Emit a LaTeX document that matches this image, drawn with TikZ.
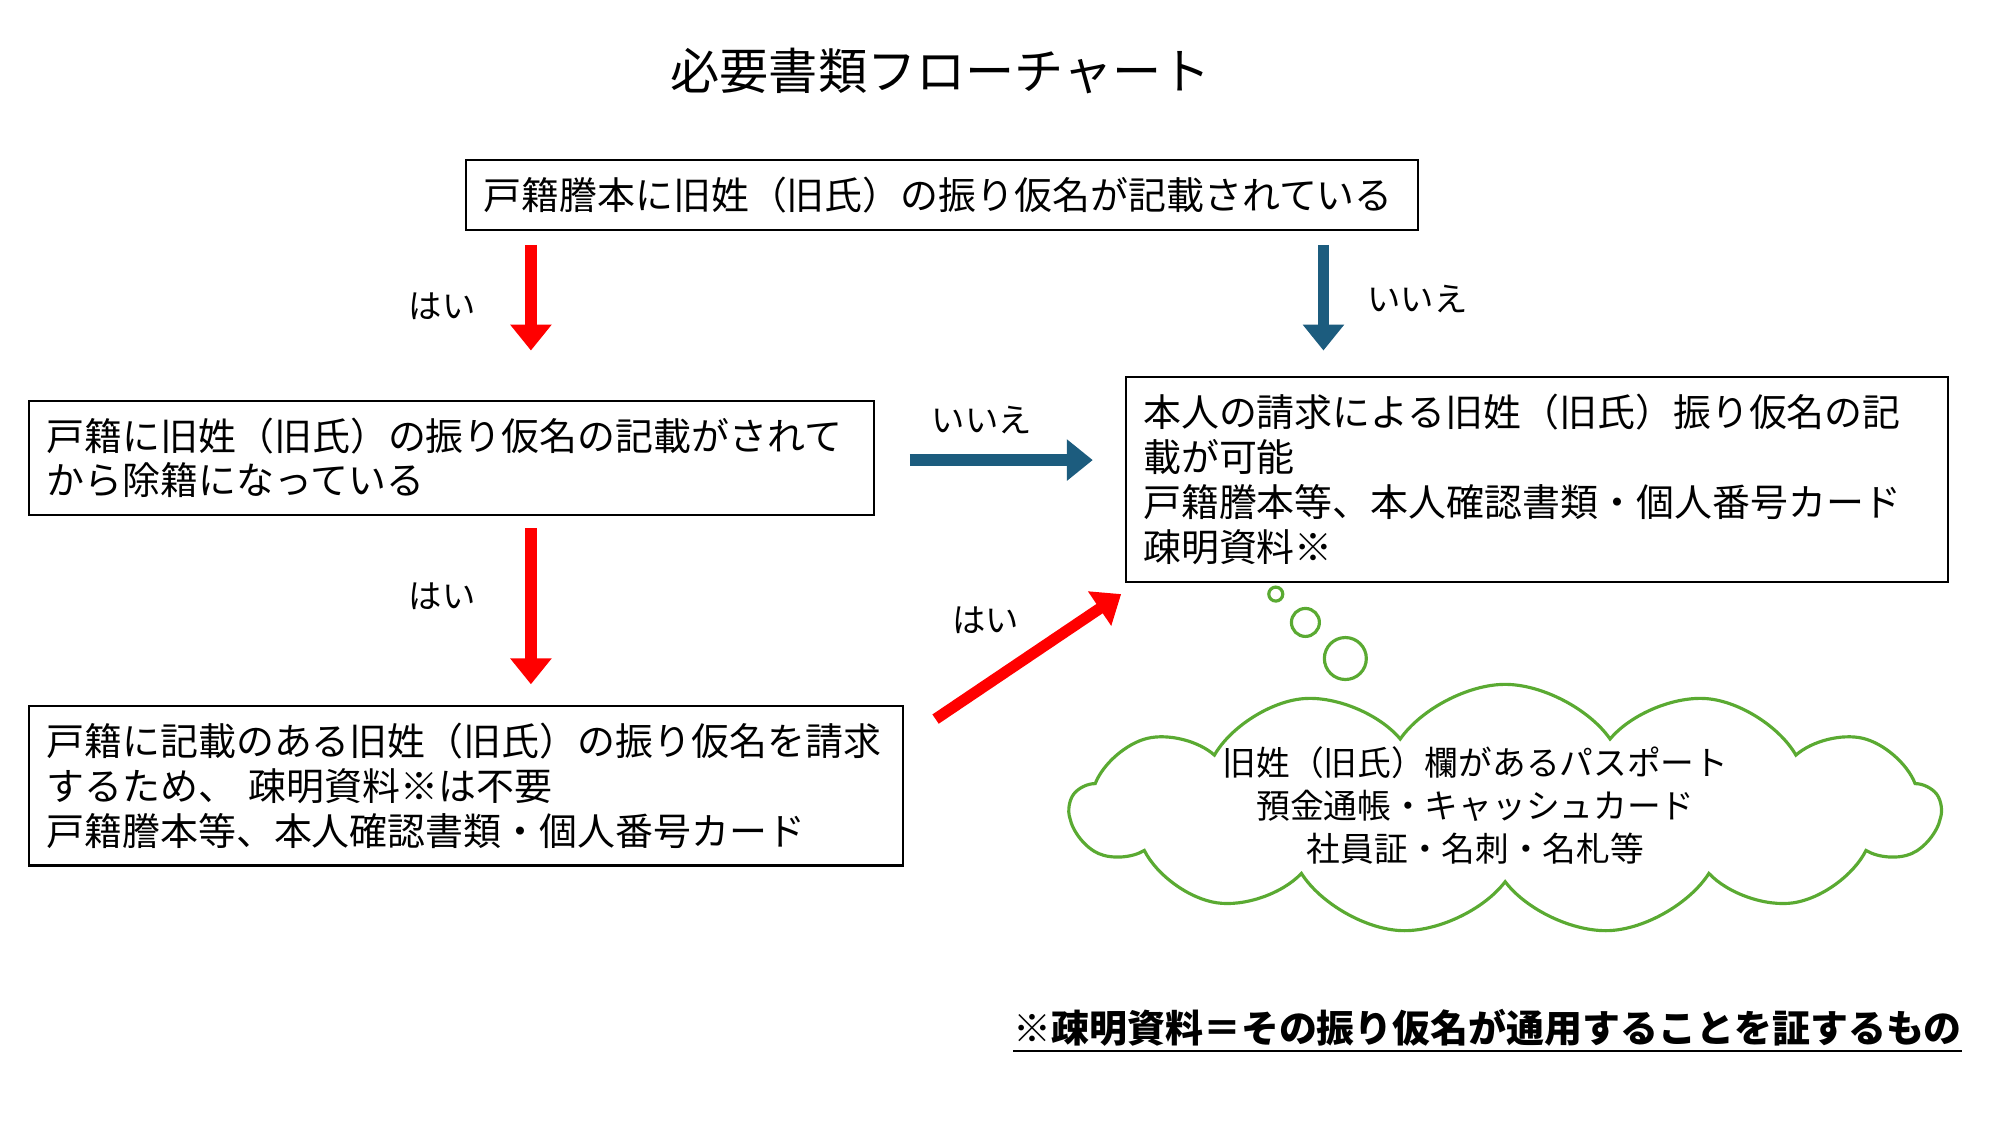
\documentclass[tikz,border=0pt]{standalone}
\usepackage{fontspec}
\setmainfont{Noto Sans CJK JP}
\usetikzlibrary{arrows.meta,shapes.symbols}
\definecolor{ared}{HTML}{FF0000}
\definecolor{ablue}{HTML}{1C5C7E}
\definecolor{cgreen}{HTML}{5AAA32}
\tikzset{
  box/.style={draw=black,line width=0.6pt,anchor=north west,align=left,inner sep=0.17cm,font=\fontsize{10.8}{12.8}\selectfont},
  redarr/.style={draw=ared,line width=3.2pt,-{Triangle[length=0.26cm,width=0.4cm]}},
  bluearr/.style={draw=ablue,line width=3.2pt,-{Triangle[length=0.26cm,width=0.4cm]}},
  lbl/.style={font=\fontsize{9.5}{11}\selectfont},
  puff/.style={draw=cgreen,line width=0.9pt,circle,inner sep=0pt}
}
\begin{document}
\begin{tikzpicture}[x=0.012887cm,y=-0.012887cm]
\useasboundingbox (0,0) rectangle (1552,873);
\node[font=\fontsize{14}{16}\selectfont] (title) at (730,55) {必要書類フローチャート};
\node[box,minimum width=9.524cm,minimum height=0.644cm,text width=9.18cm] (b1) at (361,123) {戸籍謄本に旧姓（旧氏）の振り仮名が記載されている};
\node[box,minimum width=8.454cm,minimum height=1.057cm,text width=8.11cm] (b2) at (22,310) {戸籍に旧姓（旧氏）の振り仮名の記載がされて\\から除籍になっている};
\node[box,minimum width=8.222cm,minimum height=1.972cm,text width=7.88cm] (b3) at (873,292) {本人の請求による旧姓（旧氏）振り仮名の記\\載が可能\\戸籍謄本等、本人確認書類・個人番号カード\\疎明資料※};
\node[box,minimum width=8.737cm,minimum height=1.508cm,text width=8.4cm] (b4) at (22,547) {戸籍に記載のある旧姓（旧氏）の振り仮名を請求\\するため、 疎明資料※は不要\\戸籍謄本等、本人確認書類・個人番号カード};
\coordinate (a1s) at (412,190); \coordinate (a1e) at (412,272);
\coordinate (a2s) at (1027,190); \coordinate (a2e) at (1027,272);
\coordinate (a3s) at (706,357); \coordinate (a3e) at (848,357);
\coordinate (a4s) at (412,410); \coordinate (a4e) at (412,531);
\coordinate (a5s) at (726,558); \coordinate (a5e) at (870,461);
\draw[redarr] (a1s) -- (a1e);
\draw[bluearr] (a2s) -- (a2e);
\draw[bluearr] (a3s) -- (a3e);
\draw[redarr] (a4s) -- (a4e);
\draw[redarr] (a5s) -- (a5e);
\node[lbl] (l1) at (343,238) {はい};
\node[lbl] (l2) at (1100,232) {いいえ};
\node[lbl] (l3) at (762,326) {いいえ};
\node[lbl] (l4) at (343,463) {はい};
\node[lbl] (l5) at (765,481) {はい};
\node[cloud,draw=cgreen,line width=0.9pt,cloud puffs=13,cloud puff arc=110,minimum width=8.7cm,minimum height=2.5cm] (cl) at (1168,628) {};
\node[puff,minimum size=0.14cm] (p1) at (990,461) {};
\node[puff,minimum size=0.28cm] (p2) at (1013,483) {};
\node[puff,minimum size=0.42cm] (p3) at (1044,511) {};
\node[align=center,font=\fontsize{9.6}{12.2}\selectfont] (ct) at (1145,625) {旧姓（旧氏）欄があるパスポート\\預金通帳・キャッシュカード\\社員証・名刺・名札等};
\node[anchor=east,font=\fontsize{10.8}{13}\selectfont\bfseries,inner sep=0pt] (fn) at (1523,800) {\underline{※疎明資料＝その振り仮名が通用することを証するもの}};
\end{tikzpicture}
\end{document}
